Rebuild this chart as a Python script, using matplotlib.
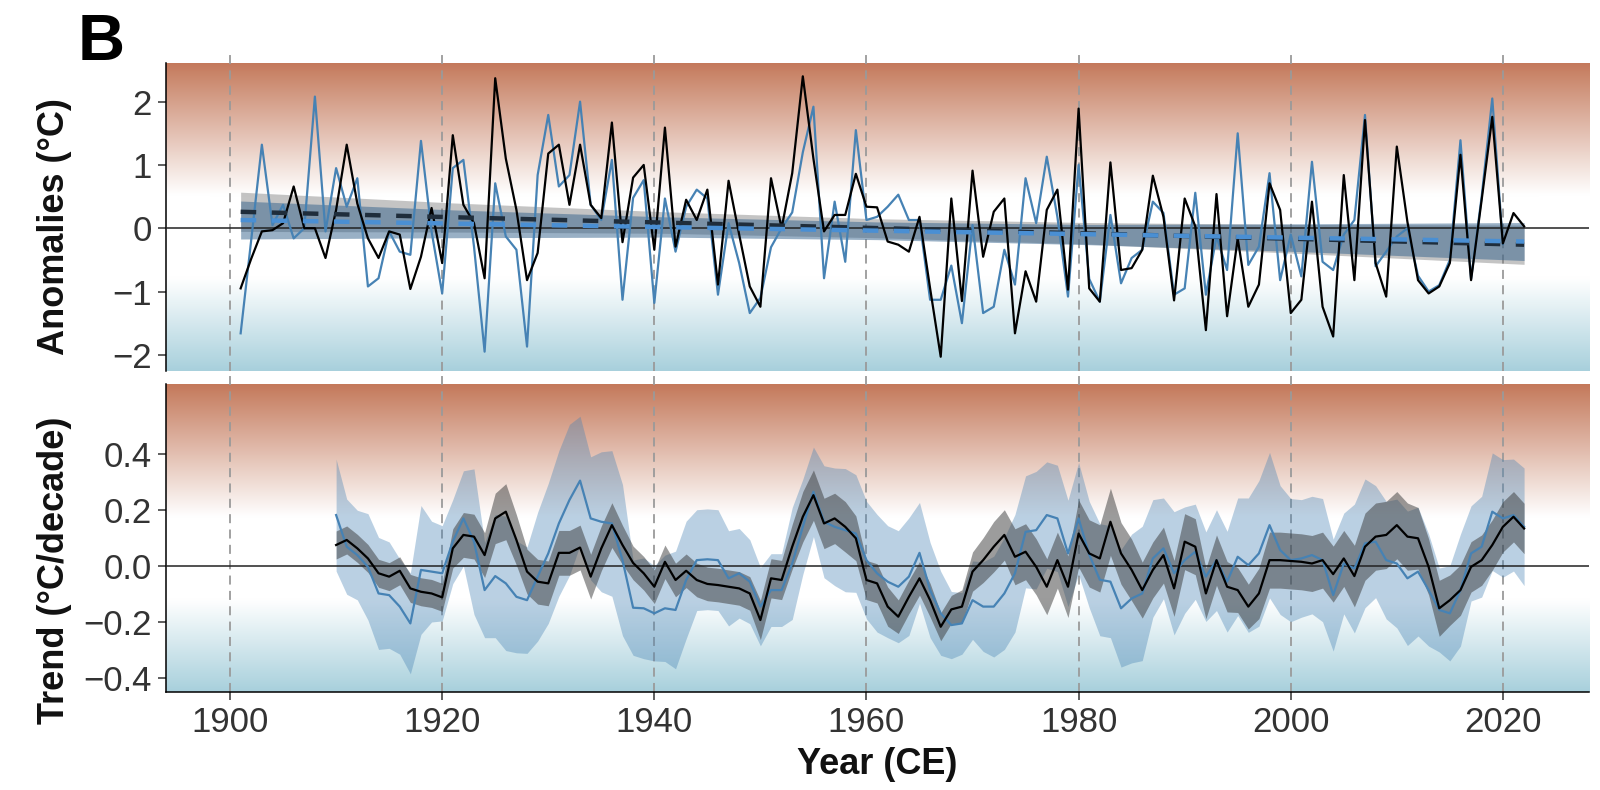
import numpy as np
import matplotlib.pyplot as plt
from matplotlib.colors import LinearSegmentedColormap

plt.rcParams['font.family'] = ['Liberation Sans', 'DejaVu Sans']

# yearly anomalies (degC)
anom_years = list(range(1901, 2023))
anom_black = [-0.95, -0.48, -0.05, -0.03, 0.08, 0.66, 0.0, 0.0, -0.47, 0.29,
              1.32, 0.39, -0.16, -0.47, -0.05, -0.1, -0.96, -0.45, 0.32, -0.55,
              1.47, 0.37, 0.08, -0.79, 2.37, 1.1, 0.29, -0.82, -0.39, 1.18,
              1.32, 0.37, 1.32, 0.37, 0.16, 1.67, -0.22, 0.8, 1.0, -0.34,
              1.59, -0.29, 0.45, 0.13, 0.61, -0.89, 0.75, -0.1, -0.92, -1.24,
              0.79, 0.0, 0.87, 2.4, 1.1, -0.05, 0.21, 0.21, 0.86, 0.34,
              0.33, -0.21, -0.26, -0.37, 0.18, -0.95, -2.03, 0.47, -1.15, 0.91,
              -0.45, 0.26, 0.47, -1.66, -0.68, -1.16, 0.29, 0.61, -0.97, 1.89,
              -0.95, -1.16, 1.04, -0.66, -0.63, -0.34, 0.83, 0.18, -1.14, 0.47,
              0.03, -1.61, 0.54, -1.39, -0.16, -1.24, -0.89, 0.71, 0.29, -1.34,
              -1.13, 0.42, -1.24, -1.71, 0.84, -0.82, 1.71, -0.55, -1.08, 1.29,
              0.1, -0.82, -1.03, -0.92, -0.55, 1.16, -0.82, 0.45, 1.76, -0.24,
              0.24, 0.03]
anom_blue = [-1.66, -0.18, 1.32, 0.05, 0.37, -0.16, 0.0, 2.08, -0.05, 0.95,
             0.34, 0.79, -0.92, -0.79, -0.05, -0.37, -0.42, 1.38, -0.05, -1.03,
             0.95, 1.08, -0.29, -1.95, 0.71, -0.13, -0.34, -1.87, 0.84, 1.79,
             0.66, 0.84, 2.0, 0.37, 0.13, 1.08, -1.13, 0.48, 0.76, -1.18,
             0.47, -0.37, 0.34, 0.61, 0.47, -1.05, 0.08, -0.55, -1.34, -1.1,
             -0.3, 0.0, 0.25, 1.2, 1.92, -0.79, 0.42, -0.53, 1.55, 0.13,
             0.18, 0.34, 0.53, 0.13, 0.13, -1.13, -1.13, -0.59, -1.5, 0.05,
             -1.34, -1.24, -0.34, -0.89, 0.79, 0.08, 1.13, 0.18, -1.08, 1.0,
             -0.8, -1.16, 0.21, -0.87, -0.47, -0.34, 0.42, 0.24, -1.05, -0.95,
             0.56, -1.05, -0.13, -0.66, 1.5, -0.58, -0.29, 0.87, -0.82, -0.1,
             -0.76, 1.05, -0.53, -0.66, -0.1, 0.13, 1.79, -0.6, -0.37, -0.13,
             0.0, -0.75, -1.0, -0.9, -0.5, 1.39, -0.8, 0.5, 2.05, -0.25]

# linear fits and their confidence bands
fit_years = [1901, 2022]
fit_black = [0.26, -0.26]
fit_blue = [0.13, -0.21]
band_years = [1901, 1921, 1941, 1961, 1981, 2001, 2022]
fit_black_lo = [-0.05, -0.06, -0.08, -0.15, -0.25, -0.40, -0.57]
fit_black_hi = [0.57, 0.40, 0.26, 0.15, 0.09, 0.06, 0.05]
fit_blue_lo = [-0.17, -0.15, -0.14, -0.18, -0.26, -0.37, -0.51]
fit_blue_hi = [0.43, 0.29, 0.18, 0.10, 0.06, 0.07, 0.09]

# running trends (degC/decade)
trend_years = list(range(1910, 2023))
trend_black = [0.074, 0.092, 0.062, 0.026, -0.027, -0.039, -0.018, -0.081, -0.093, -0.099,
               -0.113, 0.062, 0.11, 0.104, 0.038, 0.169, 0.193, 0.092, -0.021, -0.057,
               -0.063, 0.046, 0.046, 0.065, -0.039, 0.062, 0.145, 0.074, 0.01, -0.027,
               -0.075, 0.014, -0.051, -0.018, -0.051, -0.065, -0.069, -0.075, -0.081, -0.099,
               -0.194, -0.045, -0.051, 0.068, 0.175, 0.252, 0.151, 0.169, 0.139, 0.098,
               -0.051, -0.063, -0.146, -0.182, -0.111, -0.045, -0.123, -0.218, -0.156, -0.146,
               -0.021, 0.02, 0.068, 0.11, 0.032, 0.05, -0.004, -0.075, 0.02, -0.075,
               0.115, 0.044, 0.026, 0.157, 0.044, -0.015, -0.087, -0.015, 0.038, -0.081,
               0.086, 0.068, -0.099, 0.02, -0.075, -0.087, -0.146, -0.099, 0.02, 0.02,
               0.017, 0.014, 0.008, 0.02, -0.03, 0.026, -0.037, 0.068, 0.104, 0.11,
               0.145, 0.104, 0.098, -0.004, -0.152, -0.123, -0.087, -0.004, 0.02, 0.074,
               0.139, 0.175, 0.133]
trend_blue = [0.181, 0.068, 0.038, -0.004, -0.099, -0.105, -0.146, -0.206, -0.015, -0.021,
              -0.027, 0.086, 0.169, 0.086, -0.087, -0.037, -0.063, -0.111, -0.123, -0.039,
              0.044, 0.151, 0.235, 0.304, 0.169, 0.157, 0.151, 0.02, -0.15, -0.152,
              -0.17, -0.152, -0.158, -0.051, 0.02, 0.023, 0.02, -0.045, -0.027, -0.057,
              -0.146, -0.087, -0.087, 0.008, 0.139, 0.264, 0.157, 0.139, 0.127, 0.115,
              0.02, -0.027, -0.057, -0.075, -0.039, 0.046, -0.087, -0.17, -0.212, -0.206,
              -0.123, -0.146, -0.146, -0.099, -0.027, 0.121, 0.127, 0.181, 0.169, 0.044,
              0.169, 0.04, -0.05, -0.057, -0.152, -0.117, -0.099, 0.026, 0.062, -0.027,
              0.02, 0.05, -0.039, 0.02, -0.057, 0.032, 0.002, 0.044, 0.145, 0.056,
              0.02, 0.026, 0.038, 0.02, -0.105, 0.008, -0.01, 0.08, 0.086, 0.02,
              0.008, -0.045, -0.021, -0.087, -0.158, -0.17, -0.087, 0.044, 0.068, 0.193,
              0.169, 0.181, 0.139]
# half widths of the trend uncertainty bands
trend_black_err = [0.05, 0.05, 0.05, 0.05, 0.05, 0.05, 0.05, 0.05, 0.05, 0.05,
                   0.05, 0.07, 0.08, 0.08, 0.08, 0.09, 0.1, 0.09, 0.08, 0.08,
                   0.08, 0.08, 0.08, 0.08, 0.08, 0.08, 0.08, 0.07, 0.06, 0.06,
                   0.06, 0.06, 0.06, 0.06, 0.06, 0.06, 0.06, 0.06, 0.06, 0.06,
                   0.07, 0.07, 0.07, 0.08, 0.09, 0.09, 0.09, 0.09, 0.09, 0.08,
                   0.07, 0.07, 0.07, 0.06, 0.06, 0.06, 0.06, 0.05, 0.05, 0.06,
                   0.07, 0.08, 0.09, 0.09, 0.1, 0.1, 0.1, 0.1, 0.1, 0.11,
                   0.12, 0.12, 0.12, 0.12, 0.11, 0.11, 0.1, 0.1, 0.1, 0.1,
                   0.1, 0.1, 0.09, 0.09, 0.09, 0.08, 0.08, 0.09, 0.1, 0.1,
                   0.1, 0.1, 0.1, 0.1, 0.1, 0.1, 0.11, 0.12, 0.12, 0.12,
                   0.12, 0.12, 0.11, 0.1, 0.1, 0.09, 0.09, 0.09, 0.09, 0.09,
                   0.09, 0.09, 0.09]
trend_blue_err = [0.2, 0.17, 0.16, 0.19, 0.2, 0.19, 0.17, 0.18, 0.23, 0.18,
                  0.17, 0.15, 0.17, 0.26, 0.17, 0.22, 0.24, 0.2, 0.19, 0.23,
                  0.25, 0.26, 0.27, 0.23, 0.22, 0.25, 0.26, 0.27, 0.17, 0.18,
                  0.17, 0.19, 0.21, 0.21, 0.18, 0.18, 0.18, 0.17, 0.16, 0.15,
                  0.14, 0.13, 0.13, 0.2, 0.17, 0.16, 0.2, 0.21, 0.22, 0.21,
                  0.21, 0.21, 0.2, 0.2, 0.21, 0.18, 0.17, 0.15, 0.12, 0.11,
                  0.14, 0.16, 0.18, 0.2, 0.21, 0.2, 0.21, 0.19, 0.19, 0.19,
                  0.2, 0.19, 0.2, 0.2, 0.21, 0.23, 0.24, 0.21, 0.18, 0.22,
                  0.19, 0.17, 0.16, 0.18, 0.18, 0.21, 0.24, 0.26, 0.26, 0.23,
                  0.22, 0.21, 0.21, 0.22, 0.2, 0.18, 0.23, 0.23, 0.2, 0.21,
                  0.23, 0.24, 0.23, 0.2, 0.15, 0.17, 0.2, 0.17, 0.18, 0.21,
                  0.21, 0.2, 0.21]

decade_lines = [1900, 1920, 1940, 1960, 1980, 2000, 2020]

BLACK = '#000000'
BLUE = '#4682b4'
TXT = '#333333'
bg_cmap = LinearSegmentedColormap.from_list(
    'bg', [(0.0, '#a8d0dc'), (0.3, '#ffffff'), (0.57, '#ffffff'), (1.0, '#c4795b')])


def paint_background(ax):
    grad = np.linspace(0, 1, 256).reshape(-1, 1)
    ax.imshow(grad, extent=[0, 1, 0, 1], transform=ax.transAxes, origin='lower',
              aspect='auto', cmap=bg_cmap, interpolation='bicubic', zorder=0)


def style_axis(ax):
    for s in ['top', 'right']:
        ax.spines[s].set_visible(False)
    ax.spines['left'].set_linewidth(1.1)
    ax.spines['bottom'].set_linewidth(1.1)
    ax.tick_params(axis='both', labelsize=25, colors=TXT, length=6, width=1.1, pad=4)
    ax.tick_params(axis='both', labelcolor=TXT)


fig = plt.figure(figsize=(16, 7.9), dpi=100)
ax1 = fig.add_axes([0.1036, 0.5308, 0.8894, 0.3899])
ax2 = fig.add_axes([0.1036, 0.1244, 0.8894, 0.3895])

xlim = (1893.94, 2028.1)

# top panel: anomalies
paint_background(ax1)
for x in decade_lines:
    ax1.axvline(x, ymin=0, ymax=1.04, color='#9a9a9a', lw=1.3, ls=(0, (5, 3.5)),
                zorder=1, clip_on=False)
ax1.fill_between(band_years, fit_black_lo, fit_black_hi, color='#7d7d7d', alpha=0.45,
                 lw=0, zorder=2)
ax1.fill_between(band_years, fit_blue_lo, fit_blue_hi, color='#34628c', alpha=0.5,
                 lw=0, zorder=2)
ax1.axhline(0, color='#222222', lw=1.1, zorder=3)
ax1.plot(anom_years[:len(anom_blue)], anom_blue, color=BLUE, lw=1.6, zorder=4)
ax1.plot(anom_years, anom_black, color=BLACK, lw=1.6, zorder=5)
ax1.plot(fit_years, fit_black, color='#1f2d3b', lw=3.2, ls=(0, (3.5, 3.5)), zorder=6)
ax1.plot(fit_years, fit_blue, color='#4a8fd3', lw=3.2, ls=(0, (3.5, 3.5)), zorder=6)
ax1.set_xlim(*xlim)
ax1.set_ylim(-2.25, 2.616)
ax1.set_yticks([-2, -1, 0, 1, 2])
ax1.set_xticks([])
style_axis(ax1)
ax1.spines['bottom'].set_visible(False)
ax1.set_ylabel('Anomalies (°C)', fontsize=26, fontweight='bold', color='#111111')
ax1.yaxis.set_label_coords(-0.066, 0.467)

# bottom panel: running trends
paint_background(ax2)
for x in decade_lines:
    ax2.axvline(x, ymin=0, ymax=1.045, color='#9a9a9a', lw=1.3, ls=(0, (5, 3.5)),
                zorder=1, clip_on=False)
tb = np.array(trend_blue)
tk = np.array(trend_black)
ax2.fill_between(trend_years, tb - np.array(trend_blue_err), tb + np.array(trend_blue_err),
                 color=BLUE, alpha=0.37, lw=0, zorder=2)
ax2.fill_between(trend_years, tk - np.array(trend_black_err), tk + np.array(trend_black_err),
                 color='#3a3a3a', alpha=0.5, lw=0, zorder=2)
ax2.axhline(0, color='#222222', lw=1.1, zorder=3)
ax2.plot(trend_years, trend_blue, color=BLUE, lw=1.6, zorder=4)
ax2.plot(trend_years, trend_black, color=BLACK, lw=1.6, zorder=5)
ax2.set_xlim(*xlim)
ax2.set_ylim(-0.45, 0.649)
ax2.set_yticks([-0.4, -0.2, 0.0, 0.2, 0.4])
ax2.set_yticklabels(['\u22120.4', '\u22120.2', '0.0', '0.2', '0.4'])
ax2.set_xticks(decade_lines)
style_axis(ax2)
ax2.set_ylabel('Trend (°C/decade)', fontsize=26, fontweight='bold', color='#111111')
ax2.yaxis.set_label_coords(-0.066, 0.396)
ax2.set_xlabel('Year (CE)', fontsize=26, fontweight='bold', color='#111111')
ax2.xaxis.set_label_coords(0.5, -0.18)
ax2.xaxis.label.set_va('top')

fig.text(78 / 1600, 1 - 60 / 790, 'B', fontsize=47, fontweight='bold', ha='left',
         va='baseline')

fig.savefig('out.png', dpi=100)
